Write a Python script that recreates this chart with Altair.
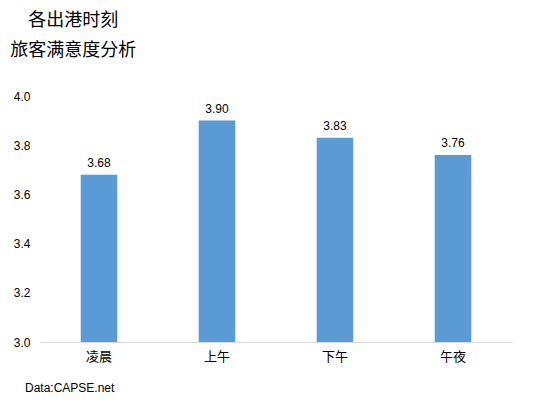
import altair as alt
import pandas as pd

categories = ["凌晨", "上午", "下午", "午夜"]
values = [3.68, 3.90, 3.83, 3.76]
value_labels = ["3.68", "3.90", "3.83", "3.76"]
title_lines = ["各出港时刻", "旅客满意度分析"]
source_note = ["Data:CAPSE.net"]
baseline = 3.0

df = pd.DataFrame({"cat": categories, "val": values, "lab": value_labels})
note_df = pd.DataFrame({"t": source_note})

FONT = "Liberation Sans, Arial, Noto Sans CJK SC"
W, H = 472, 246

x = alt.X("cat:N", sort=categories, title=None,
          scale=alt.Scale(paddingInner=0.69, paddingOuter=0.345),
          axis=alt.Axis(labelAngle=0, ticks=False, domainColor="#d9d9d9",
                        labelFontSize=13, labelColor="#000", labelPadding=8,
                        labelFont=FONT))
y = alt.Y("val:Q", title=None,
          scale=alt.Scale(domain=[3.0, 4.0], nice=False, zero=False),
          axis=alt.Axis(values=[3.0, 3.2, 3.4, 3.6, 3.8, 4.0], format=".1f",
                        grid=False, domain=False, ticks=False,
                        labelFontSize=12, labelColor="#000", labelPadding=10,
                        labelFont=FONT))

bars = alt.Chart(df).mark_bar(color="#5B9BD5").encode(
    x=x, y=y, y2=alt.datum(baseline))
texts = alt.Chart(df).mark_text(dy=-12, fontSize=12, font=FONT, color="#000").encode(
    x=x, y=y, text="lab:N")
note = alt.Chart(note_df).mark_text(align="left", baseline="middle", fontSize=12,
                                    font=FONT, color="#000").encode(
    x=alt.value(-15), y=alt.value(H + 46), text="t:N")

chart = alt.layer(bars, texts, note).properties(
    width=W, height=H,
    padding={"left": 32, "top": 88, "right": 13, "bottom": 54},
    autosize=alt.AutoSizeParams(type="none"),
    title=alt.TitleParams(text=title_lines, anchor="start", align="center",
                          dx=60, fontSize=18, fontWeight="normal", font=FONT,
                          color="#000", lineHeight=30, offset=30),
).configure_view(stroke=None)

chart.save("out.html", embed_options={"renderer": "svg", "actions": False})
